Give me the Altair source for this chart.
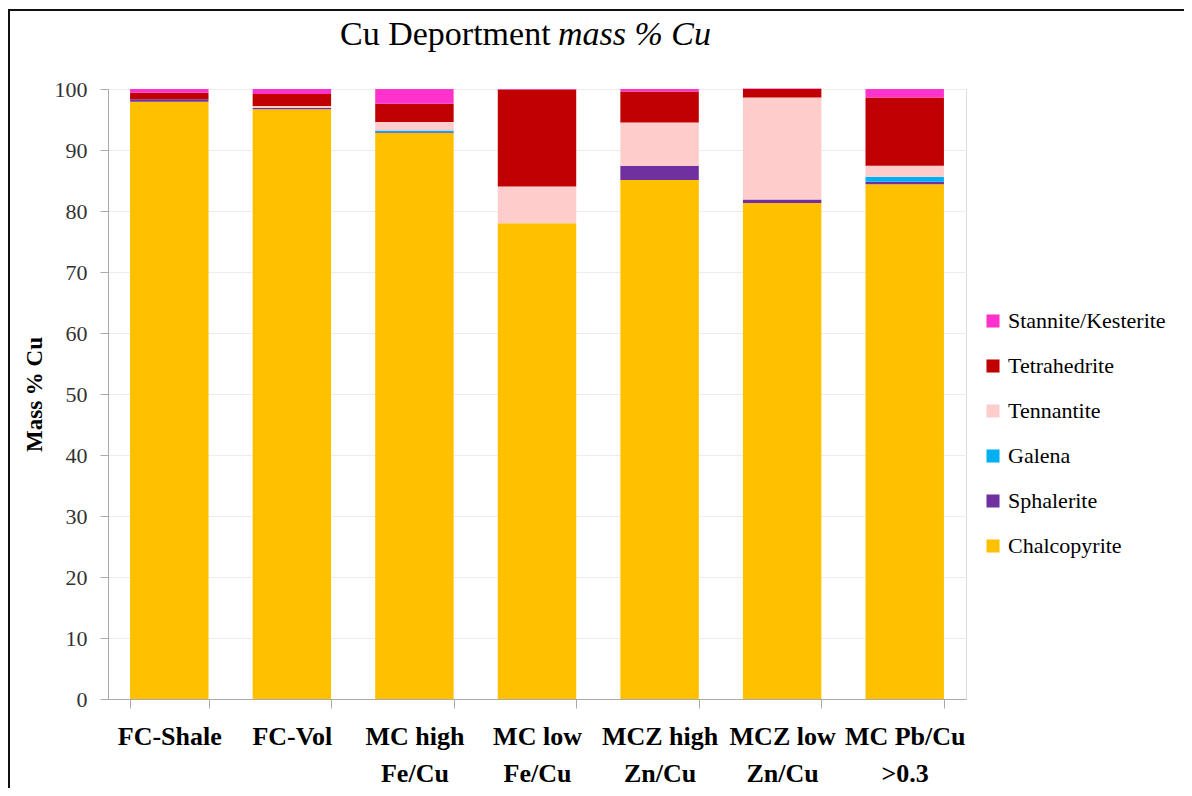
import altair as alt
import pandas as pd

categories = ["FC-Shale", "FC-Vol", "MC high\nFe/Cu", "MC low\nFe/Cu",
              "MCZ high\nZn/Cu", "MCZ low\nZn/Cu", "MC Pb/Cu\n>0.3"]
minerals = ["Stannite/Kesterite", "Tetrahedrite", "Tennantite", "Galena",
            "Sphalerite", "Chalcopyrite"]
colors = ["#FF33CC", "#C00000", "#FFCCCC", "#00B0F0", "#7030A0", "#FFC000"]

chalcopyrite = [97.9, 96.7, 92.8, 78.0, 85.1, 81.3, 84.4]
sphalerite = [0.4, 0.2, 0.1, 0.0, 2.3, 0.6, 0.4]
galena = [0.0, 0.0, 0.3, 0.0, 0.0, 0.0, 0.8]
tennantite = [0.0, 0.3, 1.4, 6.0, 7.1, 16.7, 1.8]
tetrahedrite = [1.1, 2.0, 3.0, 15.9, 5.1, 1.4, 11.2]
stannite = [0.6, 0.8, 2.4, 0.1, 0.4, 0.1, 1.4]

series = {
    "Chalcopyrite": chalcopyrite,
    "Sphalerite": sphalerite,
    "Galena": galena,
    "Tennantite": tennantite,
    "Tetrahedrite": tetrahedrite,
    "Stannite/Kesterite": stannite,
}
stack_order = ["Chalcopyrite", "Sphalerite", "Galena", "Tennantite",
               "Tetrahedrite", "Stannite/Kesterite"]

rows = []
for m, vals in series.items():
    for c, v in zip(categories, vals):
        rows.append({"Sample": c, "Mineral": m, "Value": v,
                     "Order": stack_order.index(m)})
df = pd.DataFrame(rows)

FONT = "Liberation Serif"

bars = alt.Chart(df).mark_bar(stroke=None).encode(
    x=alt.X("Sample:N", sort=categories,
            scale=alt.Scale(paddingInner=0.36, paddingOuter=0.18),
            axis=alt.Axis(title=None, labelAngle=0, labelExpr="split(datum.label, '\\n')",
                          labelFont=FONT, labelFontSize=26, labelFontWeight="bold",
                          labelColor="#000000", labelPadding=15, labelLineHeight=37,
                          labelBaseline="top",
                          domainColor="#aaaaaa", tickColor="#aaaaaa", tickSize=9,
                          tickBand="extent", grid=False)),
    y=alt.Y("Value:Q", stack="zero",
            scale=alt.Scale(domain=[0, 100], nice=False),
            axis=alt.Axis(title="Mass % Cu", values=list(range(0, 101, 10)),
                          titleFont=FONT, titleFontSize=23, titleFontWeight="bold",
                          titleColor="#000000", titlePadding=8,
                          labelFont=FONT, labelFontSize=22, labelColor="#333333",
                          labelPadding=13, tickSize=8, tickColor="#aaaaaa",
                          domainColor="#aaaaaa", gridColor="#ececec")),
    color=alt.Color("Mineral:N",
                    scale=alt.Scale(domain=minerals, range=colors),
                    legend=alt.Legend(title=None, orient="none", legendX=874, legendY=221,
                                      symbolType="square", symbolSize=170,
                                      symbolStrokeWidth=0, labelFont=FONT,
                                      labelFontSize=22, labelColor="#000000",
                                      rowPadding=23, labelOffset=4)),
    order=alt.Order("Order:Q", sort="ascending"),
)

title_df = pd.DataFrame({"t": ["Cu Deportment"], "i": ["mass % Cu"]})
title1 = alt.Chart(title_df).mark_text(font=FONT, fontSize=34, align="left",
                                       baseline="middle", color="#000000").encode(
    text="t:N", x=alt.value(232), y=alt.value(-54))
title2 = alt.Chart(title_df).mark_text(font=FONT, fontSize=34, align="left",
                                       fontStyle="italic", baseline="middle",
                                       color="#000000").encode(
    text="i:N", x=alt.value(450), y=alt.value(-54))

frame_left = alt.Chart(title_df).mark_rule(color="#111111", strokeWidth=2).encode(
    x=alt.value(-99), y=alt.value(-79), y2=alt.value(720))
frame_top = alt.Chart(title_df).mark_rule(color="#111111", strokeWidth=2).encode(
    x=alt.value(-100), x2=alt.value(1076), y=alt.value(-79))

chart = alt.layer(bars, title1, title2, frame_left, frame_top).properties(
    width=858, height=610,
    autosize=alt.AutoSizeParams(type="none"),
    padding={"left": 100, "top": 81, "right": 218, "bottom": 89},
).configure_view(stroke=None).configure(background="white")

chart.save("out.html", embed_options={"renderer": "svg", "actions": False})
